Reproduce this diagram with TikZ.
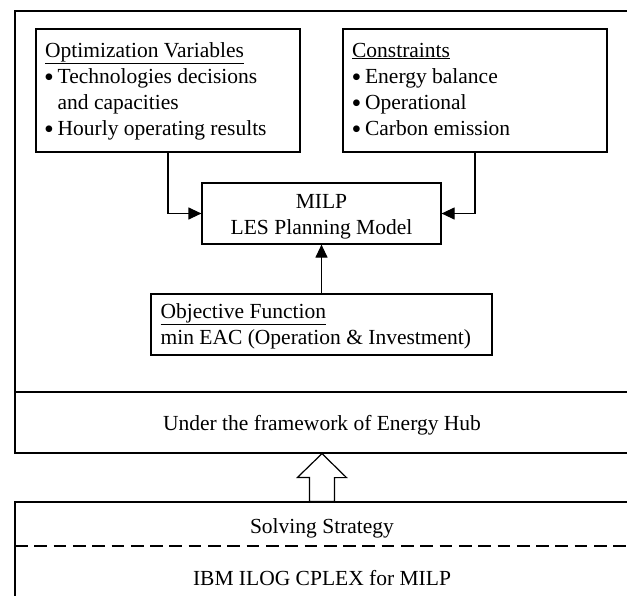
\documentclass[tikz,border=0pt]{standalone}
\usepackage{fontspec}
\setmainfont{Liberation Serif}
\usetikzlibrary{arrows.meta,calc}
\newcommand{\bigbullet}{\raisebox{-3pt}{\scalebox{1.3}{\textbullet}}}
\begin{document}
\begin{tikzpicture}[x=1pt,y=-1pt,
  line width=1.2pt,
  box/.style={draw, inner sep=0pt, line width=1.2pt},
  txt/.style={inner sep=0pt, font=\fontsize{21.5}{26}\selectfont},
  arr/.style={-{Triangle[length=13pt,width=12pt]}},
  hollow/.style={draw, fill=white, line width=1.2pt, line join=miter},
  dashline/.style={dash pattern=on 12.7pt off 6.6pt, line width=1.2pt}]
\useasboundingbox (0,0) rectangle (627,595);
\clip (0,0) rectangle (627,595);
% outer frame and hub strip
\node[box, minimum width=614, minimum height=442] (outer) at (322,232) {};
\node[box, minimum width=614, minimum height=61] (hub) at (322,422.5) {};
% bottom box
\node[box, minimum width=614, minimum height=110] (solve) at (322,557) {};
\coordinate (dl) at (15,546);
\coordinate (dr) at (629,546);
\draw[dashline] (dl) -- (dr);
% inner boxes
\node[box, minimum width=264, minimum height=123] (ov) at (168,90.5) {};
\node[box, minimum width=264, minimum height=123] (con) at (475,90.5) {};
\node[box, minimum width=239, minimum height=61] (milp) at (321.5,213.5) {};
\node[box, minimum width=341, minimum height=61] (obj) at (321.5,324.5) {};
% texts: optimization variables
\node[txt, anchor=base west] (ovt) at (44.5,57) {\underline{Optimization Variables}};
\node[txt, anchor=base west] (ovb1) at (43.5,83) {\bigbullet};
\node[txt, anchor=base west] (ov1) at (57,83) {Technologies decisions};
\node[txt, anchor=base west] (ov2) at (57,109) {and capacities};
\node[txt, anchor=base west] (ovb2) at (43.5,135) {\bigbullet};
\node[txt, anchor=base west] (ov3) at (57,135) {Hourly operating results};
% constraints
\node[txt, anchor=base west] (cot) at (351.5,57) {\underline{Constraints}};
\node[txt, anchor=base west] (cob1) at (351,83) {\bigbullet};
\node[txt, anchor=base west] (co1) at (364.5,83) {Energy balance};
\node[txt, anchor=base west] (cob2) at (351,109) {\bigbullet};
\node[txt, anchor=base west] (co2) at (364.5,109) {Operational};
\node[txt, anchor=base west] (cob3) at (351,135) {\bigbullet};
\node[txt, anchor=base west] (co3) at (364.5,135) {Carbon emission};
% MILP
\node[txt, anchor=base] (mt1) at (321.5,208) {MILP};
\node[txt, anchor=base] (mt2) at (321.5,234) {LES Planning Model};
% objective
\node[txt, anchor=base west] (ot1) at (160,318) {\underline{Objective Function}};
\node[txt, anchor=base west] (ot2) at (160,344) {min EAC (Operation \& Investment)};
% hub and solving texts
\node[txt, anchor=base] (ht) at (322,430) {Under the framework of Energy Hub};
\node[txt, anchor=base] (st1) at (322,533) {Solving Strategy};
\node[txt, anchor=base] (st2) at (322,585) {IBM ILOG CPLEX for MILP};
% connectors
\draw[arr] (ov.south) |- (milp.west);
\draw[arr] (con.south) |- (milp.east);
\draw[arr] (obj.north) -- (milp.south);
% hollow block arrow from solving box up to hub strip
\draw[hollow] ($(solve.north)+(-12.5,0)$) -- ++(0,-24) -- ++(-12,0)
  -- (hub.south) -- ($(hub.south)+(24.5,24)$) -- ++(-12,0)
  -- ($(solve.north)+(12.5,0)$) -- cycle;
\end{tikzpicture}
\end{document}
